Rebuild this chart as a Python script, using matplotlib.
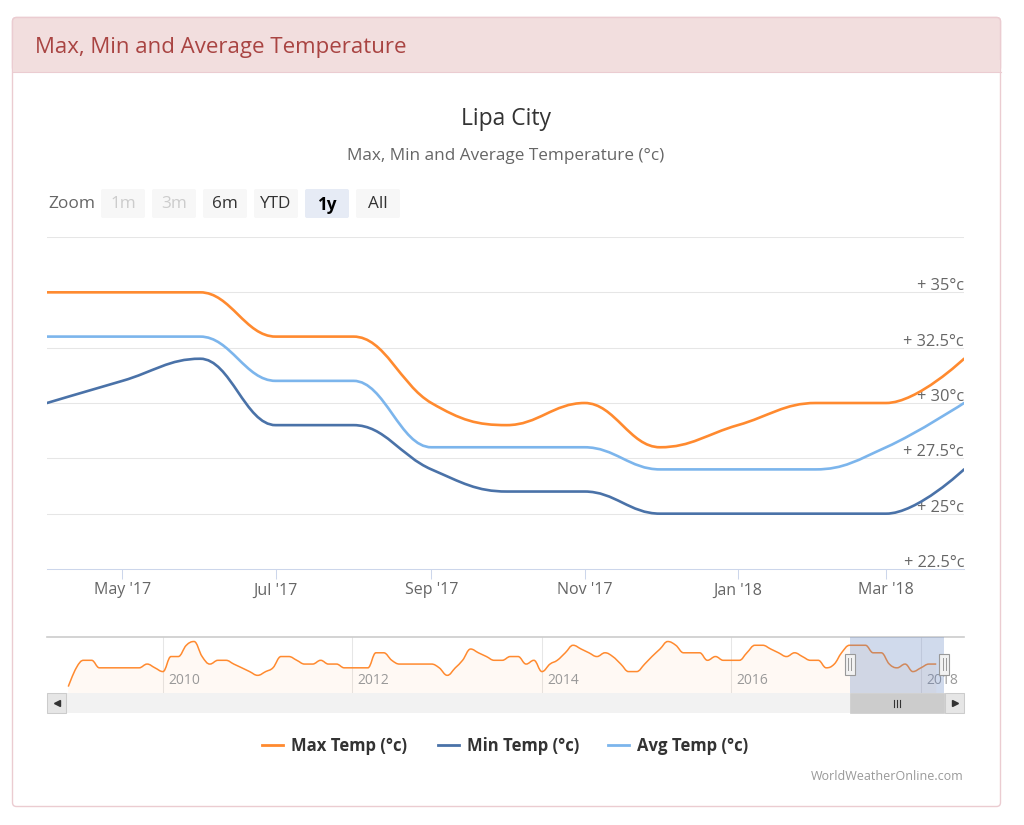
import numpy as np
import pandas as pd
import matplotlib
matplotlib.use("Agg")
import matplotlib.pyplot as plt
import matplotlib.dates as mdates
import matplotlib.transforms as mtransforms
from matplotlib.path import Path
from matplotlib.patches import PathPatch, FancyBboxPatch, Rectangle

plt.rcParams['font.family'] = ['Open Sans', 'DejaVu Sans']

# monthly values in the 1y window
months = pd.date_range('2017-04-01', '2018-04-01', freq='MS')
max_temp = [35, 35, 35, 33, 33, 30, 29, 30, 28, 29, 30, 30, 32]
min_temp = [30, 31, 32, 29, 29, 27, 26, 26, 25, 25, 25, 25, 27]
avg_temp = [33, 33, 33, 31, 31, 28, 28, 28, 27, 27, 27, 28, 30]

# navigator series (max temp history)
nav_months = pd.date_range('2009-01-01', '2018-03-01', freq='MS')
nav_max = [
    24, 29, 31, 31, 29, 29, 29, 29, 29, 29, 30, 29,  # 2009
    28, 32, 32, 35, 36, 32, 30, 31, 31, 30, 29, 28,  # 2010
    27, 28, 29, 32, 32, 31, 30, 30, 31, 30, 30, 29,  # 2011
    29, 29, 29, 33, 33, 31, 30, 30, 30, 30, 30, 29,  # 2012
    27, 29, 31, 34, 33, 32, 31, 31, 32, 32, 30, 31,  # 2013
    28, 30, 31, 33, 35, 34, 33, 32, 33, 32, 30, 28,  # 2014
    28, 30, 32, 34, 36, 35, 33, 33, 33, 31, 32, 31,  # 2015
    31, 31, 33, 35, 35, 34, 33, 32, 33, 32, 31, 31,  # 2016
    29, 30, 33, 35, 35, 35, 33, 33, 30, 29, 30, 28,  # 2017
    29, 30, 30,                                      # 2018
]

series_names = ['Max Temp (°c)', 'Min Temp (°c)', 'Avg Temp (°c)']
colors = ['#ff8a2f', '#4a72a8', '#7cb5ec']
y_ticks = [22.5, 25, 27.5, 30, 32.5, 35]
x_tick_dates = ['2017-05-01', '2017-07-01', '2017-09-01', '2017-11-01', '2018-01-01', '2018-03-01']
x_tick_labels = ["May '17", "Jul '17", "Sep '17", "Nov '17", "Jan '18", "Mar '18"]
nav_years = ['2010', '2012', '2014', '2016', '2018']
zoom_buttons = ['1m', '3m', '6m', 'YTD', '1y', 'All']


def spline_path(xs, ys, smoothing=1.5):
    # same control points as a highcharts spline
    n = len(xs)
    d = smoothing + 1
    lc = [None] * n
    rc = [None] * n
    for i in range(1, n - 1):
        x, y = xs[i], ys[i]
        lx, ly = xs[i - 1], ys[i - 1]
        nx, ny = xs[i + 1], ys[i + 1]
        lcx, lcy = (smoothing * x + lx) / d, (smoothing * y + ly) / d
        rcx, rcy = (smoothing * x + nx) / d, (smoothing * y + ny) / d
        if rcx != lcx:
            corr = (rcy - lcy) * (rcx - x) / (rcx - lcx) + y - rcy
            lcy += corr
            rcy += corr
        if lcy > ly and lcy > y:
            lcy = max(ly, y); rcy = 2 * y - lcy
        elif lcy < ly and lcy < y:
            lcy = min(ly, y); rcy = 2 * y - lcy
        if rcy > ny and rcy > y:
            rcy = max(ny, y); lcy = 2 * y - rcy
        elif rcy < ny and rcy < y:
            rcy = min(ny, y); lcy = 2 * y - rcy
        lc[i] = (lcx, lcy)
        rc[i] = (rcx, rcy)
    verts = [(xs[0], ys[0])]
    codes = [Path.MOVETO]
    for i in range(1, n):
        c1 = rc[i - 1] if rc[i - 1] else (xs[i - 1], ys[i - 1])
        c2 = lc[i] if lc[i] else (xs[i], ys[i])
        verts += [c1, c2, (xs[i], ys[i])]
        codes += [Path.CURVE4] * 3
    return verts, codes


W, H = 1024, 825
fig = plt.figure(figsize=(W / 100, H / 100), dpi=100)


def px_box(x0, y0, x1, y1):
    return [x0 / W, 1 - y1 / H, (x1 - x0) / W, (y1 - y0) / H]


# background in pixel coords
bg = fig.add_axes([0, 0, 1, 1])
bg.set_xlim(0, W)
bg.set_ylim(H, 0)
bg.axis('off')

bg.add_patch(FancyBboxPatch((12.5, 17.5), 988, 789, boxstyle='round,pad=0,rounding_size=4',
                            fc='white', ec='#ebccd1', lw=1))
bg.add_patch(FancyBboxPatch((12.5, 17.5), 988, 54, boxstyle='round,pad=0,rounding_size=4',
                            fc='#f2dede', ec='#ebccd1', lw=1))
bg.add_patch(Rectangle((13.3, 60), 986.4, 11.5, fc='#f2dede', ec='none'))
bg.plot([12.5, 1000.5], [71.5, 71.5], color='#ebccd1', lw=0.8)
bg.text(35, 47, 'Max, Min and Average Temperature', color='#a94442', fontsize=16,
        ha='left', va='center')

bg.text(506, 119, 'Lipa City', color='#333333', fontsize=16.5, ha='center', va='center')
bg.text(506, 156, 'Max, Min and Average Temperature (°c)', color='#666666', fontsize=12.3,
        ha='center', va='center')

# range selector
bg.text(48, 204.5, 'Zoom', color='#666666', fontsize=12.5, ha='left', va='center')
for i, lab in enumerate(zoom_buttons):
    x0 = 101 + i * 51
    fc = '#e6ebf5' if lab == '1y' else '#f7f7f7'
    bg.add_patch(FancyBboxPatch((x0, 189), 44, 29, boxstyle='round,pad=0,rounding_size=2',
                                fc=fc, ec='none'))
    tc = '#cccccc' if lab in ('1m', '3m') else ('#000000' if lab == '1y' else '#333333')
    bg.text(x0 + 22, 204.5, lab, color=tc, fontsize=12.3, ha='center', va='center',
            fontweight='bold' if lab == '1y' else 'normal')

# main chart
ax = fig.add_axes(px_box(47, 237, 964, 569))
ax.patch.set_alpha(0)
xs = mdates.date2num(months.to_pydatetime())
ax.set_xlim(xs[0], xs[-1])
ax.set_ylim(22.5, 37.5)
for v in y_ticks[1:] + [37.5]:
    ax.axhline(v, color='#e6e6e6', lw=0.75, zorder=0)
for sp in ['top', 'left', 'right']:
    ax.spines[sp].set_visible(False)
ax.spines['bottom'].set_color('#ccd6eb')
ax.spines['bottom'].set_linewidth(0.75)
ax.set_yticks([])
ax.set_xticks(mdates.date2num(pd.to_datetime(x_tick_dates).to_pydatetime()))
ax.set_xticklabels(x_tick_labels)
ax.tick_params(axis='x', length=7.2, width=0.75, color='#ccd6eb', labelcolor='#666666',
               labelsize=11.5, pad=2.5)
ytrans = mtransforms.offset_copy(ax.get_yaxis_transform(), fig=fig, y=2, units='dots')
for v in y_ticks:
    ax.text(1.0, v, f'+ {v:g}°c', transform=ytrans, ha='right', va='baseline',
            color='#666666', fontsize=11.8, clip_on=False)

for vals, c in zip([max_temp, min_temp, avg_temp], colors):
    verts, codes = spline_path(xs, vals)
    ax.add_patch(PathPatch(Path(verts, codes), fc='none', ec=c, lw=1.9,
                           capstyle='round', joinstyle='round', zorder=3))

# navigator
axn = fig.add_axes(px_box(47, 637, 964, 693))
axn.patch.set_alpha(0)
axn.set_xlim(mdates.date2num(pd.Timestamp('2008-10-11')), mdates.date2num(pd.Timestamp('2018-06-16')))
axn.set_ylim(22.3, 37.2)
axn.set_xticks([])
axn.set_yticks([])
for sp in ['left', 'right', 'bottom']:
    axn.spines[sp].set_visible(False)
axn.spines['top'].set_color('#cccccc')
axn.spines['top'].set_linewidth(1.2)

nxs = mdates.date2num(nav_months.to_pydatetime())
ytxt = mtransforms.offset_copy(axn.get_xaxis_transform(), fig=fig, x=5, units='dots')
for yr in nav_years:
    xv = mdates.date2num(pd.Timestamp(yr + '-01-01'))
    axn.axvline(xv, color='#e6e6e6', lw=0.75, zorder=0)
    axn.text(xv, 0.22, yr, transform=ytxt, color='#999999', fontsize=10, ha='left', va='center')

verts, codes = spline_path(nxs, nav_max)
y0 = axn.get_ylim()[0]
fill_verts = verts + [(nxs[-1], y0), (nxs[0], y0), (nxs[0], y0)]
fill_codes = codes + [Path.LINETO, Path.LINETO, Path.CLOSEPOLY]
axn.add_patch(PathPatch(Path(fill_verts, fill_codes), fc=colors[0], alpha=0.05, ec='none', zorder=1))
axn.add_patch(PathPatch(Path(verts, codes), fc='none', ec=colors[0], lw=1.1, zorder=2))

sel0, sel1 = xs[0], xs[-1]
axn.axvspan(sel0, sel1, color='#6685c2', alpha=0.3, lw=0, zorder=3)

# pixel positions of the selection edges
px0 = axn.transData.transform((sel0, 30))[0]
px1 = axn.transData.transform((sel1, 30))[0]

# scrollbar
bg.add_patch(Rectangle((47, 693), 917, 20, fc='#f2f2f2', ec='none', zorder=2))
bg.add_patch(Rectangle((px0, 693), px1 - px0, 20, fc='#cccccc', ec='#cccccc', lw=0.5, zorder=3))
for xb in (47, 945):
    bg.add_patch(Rectangle((xb, 693), 19, 20, fc='#e6e6e6', ec='#cccccc', lw=0.75, zorder=4))
bg.plot([56.5], [703], marker='<', ms=4, color='#333333', zorder=5)
bg.plot([954.5], [703], marker='>', ms=4, color='#333333', zorder=5)
mid = (px0 + px1) / 2
for dx in (-3, 0, 3):
    bg.plot([mid + dx, mid + dx], [699.5, 706.5], color='#333333', lw=0.8, zorder=5)

bg.set_zorder(0)
ax.set_zorder(1)
axn.set_zorder(1)

# navigator handles sit above the navigator axes
ov = fig.add_axes([0, 0, 1, 1])
ov.set_xlim(0, W)
ov.set_ylim(H, 0)
ov.axis('off')
ov.set_zorder(2)
for hx in (px0, px1):
    ov.add_patch(Rectangle((hx - 5, 653.5), 10, 21, fc='#f2f2f2', ec='#999999', lw=0.8))
    for dx in (-1.5, 1.5):
        ov.plot([hx + dx, hx + dx], [658, 670], color='#999999', lw=0.7)

# legend
leg_x = [262, 438, 608]
for lx, name, c in zip(leg_x, series_names, colors):
    bg.plot([lx, lx + 21], [745, 745], color=c, lw=2)
    bg.text(lx + 29, 746, name, color='#333333', fontsize=12, fontweight='bold',
            ha='left', va='center')

bg.text(964, 776, 'WorldWeatherOnline.com', color='#999999', fontsize=9, ha='right', va='center')

fig.savefig('out.png', dpi=100)
